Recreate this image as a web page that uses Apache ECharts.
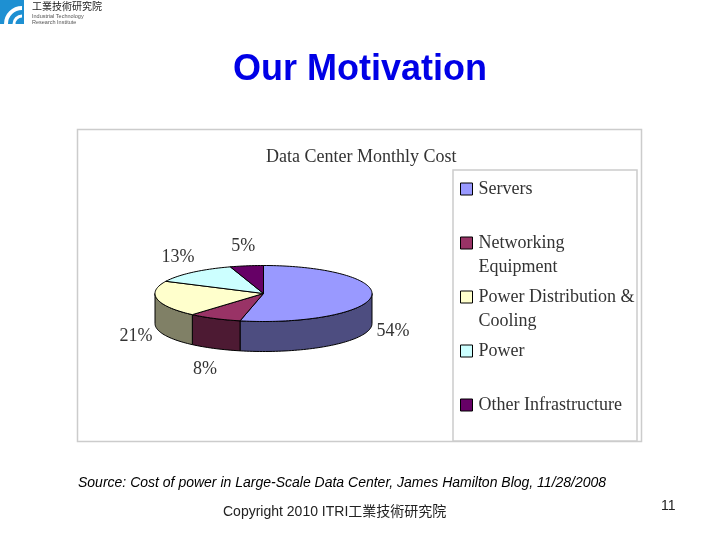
<!DOCTYPE html>
<html>
<head>
<meta charset="utf-8">
<style>html,body{margin:0;padding:0;background:#fff}#c{width:720px;height:540px}</style>
<script src="https://cdn.jsdelivr.net/npm/echarts@6/dist/echarts.min.js"></script>
</head>
<body>
<div id="c"></div>
<script>
const categories = ['Servers', 'Networking Equipment', 'Power Distribution & Cooling', 'Power', 'Other Infrastructure'];
const legendLines = ['Servers\n ', 'Networking\nEquipment', 'Power Distribution &\nCooling', 'Power\n ', 'Other Infrastructure\n '];
const values = [54, 8, 21, 13, 5];
const topColors = ['#9999FF', '#993366', '#FFFFCC', '#CCFFFF', '#660066'];
const sideColors = ['#4D4D80', '#4D1A33', '#808066', '#668080', '#330033'];

const CX = 263.5, CY = 293.5, RX = 108.5, RY = 28, DEPTH = 30;
const total = values.reduce((a, b) => a + b, 0);
const starts = [];
values.reduce((acc, v, i) => { starts[i] = acc; return acc + v; }, 0);

function pt(t, dy) { return [CX + RX * Math.sin(t), CY - RY * Math.cos(t) + (dy || 0)]; }
function arc(a, b, dy) {
  const n = Math.max(2, Math.ceil(Math.abs(b - a) / 0.03));
  const out = [];
  for (let k = 0; k <= n; k++) out.push(pt(a + (b - a) * k / n, dy));
  return out;
}
function sliceItem(idx) {
  return function (params, api) {
    const v = api.value(0);
    const a = starts[idx] / total * 2 * Math.PI;
    const b = (starts[idx] + v) / total * 2 * Math.PI;
    const children = [];
    const lo = Math.max(a, Math.PI / 2), hi = Math.min(b, 1.5 * Math.PI);
    if (hi > lo) {
      const wall = arc(lo, hi, 0).concat(arc(hi, lo, DEPTH));
      children.push({ type: 'polygon', shape: { points: wall }, style: { fill: sideColors[idx], stroke: '#000', lineWidth: 1 } });
    }
    children.push({
      type: 'polygon',
      shape: { points: [[CX, CY]].concat(arc(a, b, 0)) },
      style: { fill: topColors[idx], stroke: '#000', lineWidth: 1 }
    });
    const m = (a + b) / 2;
    const below = Math.cos(m) < 0;
    children.push({
      type: 'text',
      style: {
        x: CX + 1.2 * RX * Math.sin(m),
        y: CY - 1.7 * RY * Math.cos(m) + (below ? DEPTH + 3 : 0),
        text: Math.round(v) + '%',
        fill: '#333',
        font: '18px "Liberation Serif"',
        align: 'center',
        verticalAlign: 'middle'
      }
    });
    return { type: 'group', children };
  };
}

const chart = echarts.init(document.getElementById('c'), null, { renderer: 'canvas' });
chart.setOption({
  animation: false,
  backgroundColor: '#fff',
  title: [
    { text: 'Our Motivation', left: 'center', top: 47, textStyle: { fontFamily: 'Liberation Sans', fontWeight: 'bold', fontSize: 36, color: '#0000E6' } },
    { text: 'Data Center Monthly Cost', left: 261, top: 143, textStyle: { fontFamily: 'Liberation Serif', fontWeight: 'normal', fontSize: 18, color: '#333' } }
  ],
  legend: {
    orient: 'vertical',
    left: 455,
    top: 148,
    data: categories,
    icon: 'rect',
    itemWidth: 12,
    itemHeight: 12,
    itemGap: -18,
    itemStyle: { borderColor: '#000', borderWidth: 1 },
    selectedMode: false,
    formatter: function (name) { return '\n' + legendLines[categories.indexOf(name)]; },
    textStyle: { fontFamily: 'Liberation Serif', fontSize: 18, lineHeight: 24, color: '#333', padding: [0, 0, 0, 1] }
  },
  graphic: [
    { type: 'rect', z: -1, shape: { x: 77.5, y: 129.5, width: 564, height: 312 }, style: { fill: '#fff', stroke: '#ccc', lineWidth: 1.5 } },
    { type: 'rect', z: -1, shape: { x: 453, y: 170, width: 184, height: 271 }, style: { fill: '#fff', stroke: '#ccc', lineWidth: 1.5 } },
    { type: 'rect', shape: { x: 0, y: 0, width: 24, height: 24 }, style: { fill: '#1E90D2' } },
    { type: 'arc', shape: { cx: 22, cy: 24, r: 16, startAngle: Math.PI, endAngle: 1.5 * Math.PI }, style: { fill: 'none', stroke: '#fff', lineWidth: 4 } },
    { type: 'arc', shape: { cx: 22, cy: 24, r: 8, startAngle: Math.PI, endAngle: 1.5 * Math.PI }, style: { fill: 'none', stroke: '#fff', lineWidth: 3 } },
    { type: 'text', style: { x: 32, y: 1, text: '工業技術研究院', fill: '#222', font: '10px "Noto Sans CJK TC"' } },
    { type: 'text', style: { x: 32, y: 13, text: 'Industrial Technology', fill: '#555', font: '5.5px "Liberation Sans"' } },
    { type: 'text', style: { x: 32, y: 19, text: 'Research Institute', fill: '#555', font: '5.5px "Liberation Sans"' } },
    { type: 'text', style: { x: 78, y: 476, text: 'Source: Cost of power in Large-Scale Data Center, James Hamilton Blog, 11/28/2008', fill: '#000', font: 'italic 14px "Liberation Sans"' } },
    { type: 'text', style: { x: 223, y: 505, text: 'Copyright 2010 ITRI工業技術研究院', fill: '#222', font: '14px "Liberation Sans","Noto Sans CJK TC"' } },
    { type: 'text', style: { x: 661, y: 499, text: '11', fill: '#222', font: '14px "Liberation Sans"' } }
  ],
  series: categories.map((name, i) => ({
    type: 'custom',
    name,
    coordinateSystem: 'none',
    silent: true,
    itemStyle: { color: topColors[i] },
    data: [[values[i]]],
    renderItem: sliceItem(i)
  }))
});
</script>
</body>
</html>
